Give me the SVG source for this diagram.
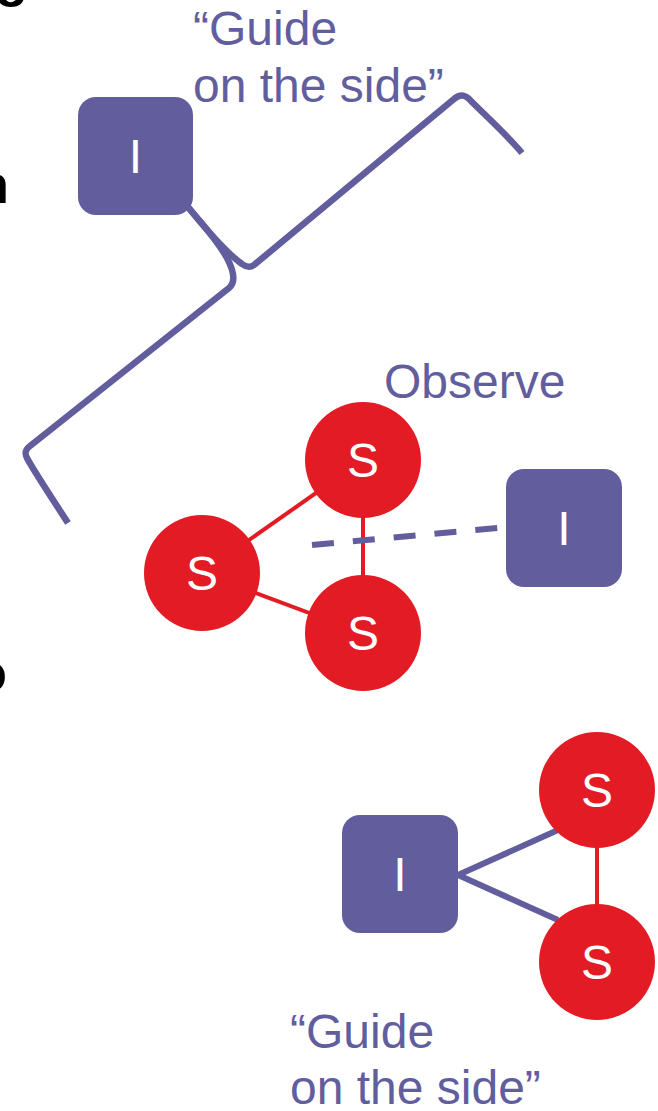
<svg xmlns="http://www.w3.org/2000/svg" width="658" height="1111" viewBox="0 0 658 1111">
  <style>
    .lbl { font-family: "Liberation Sans", Arial, sans-serif; font-size: 48px; fill: #625e9e; }
    .edge { font-family: "Liberation Sans", Arial, sans-serif; font-size: 54px; font-weight: bold; fill: #000; }
    .node-i rect { fill: #625e9e; }
    .node-s circle { fill: #e21b24; }
    .glyph { font-family: "Liberation Sans", Arial, sans-serif; font-size: 48px; fill: #fff; text-anchor: middle; }
    .link-s { stroke: #e21b24; stroke-width: 4; fill: none; }
    .link-i { stroke: #625e9e; stroke-width: 6; fill: none; }
    .brace { stroke: #625e9e; stroke-width: 6.5; fill: none; stroke-linejoin: round; }
  </style>

  <!-- clipped heading letters along the left margin -->
  <g id="margin-text">
    <text class="edge" x="-5" y="-4">g</text>
    <text class="edge" x="-24" y="203">n</text>
    <text class="edge" x="-26" y="691">o</text>
  </g>

  <!-- labels -->
  <g id="labels">
    <text class="lbl" x="193" y="45">“Guide</text>
    <text class="lbl" x="193" y="102">on the side”</text>
    <text class="lbl" x="384" y="398">Observe</text>
    <text class="lbl" x="290" y="1048">“Guide</text>
    <text class="lbl" x="290" y="1104">on the side”</text>
  </g>

  <!-- connectors -->
  <g id="connectors">
    <!-- curly brace reaching from the instructor -->
    <path class="brace" d="M68,523 C 55,503 32,468 27,458 C 24,452 26,449 30,446 L 229,288 C 236,282 234,272 228,260 C 218,240 200,222 188,207"/>
    <path class="brace" d="M188,207 C 205,228 225,252 242,264 C 246,267 250,268 254,265 L 454,99 C 460,94 465,94 471,101 C 487,117 505,133 522,153"/>
    <!-- student triangle -->
    <line class="link-s" x1="202" y1="573" x2="363" y2="460"/>
    <line class="link-s" x1="202" y1="573" x2="363" y2="633"/>
    <line class="link-s" x1="363" y1="460" x2="363" y2="633"/>
    <!-- bottom pair with instructor -->
    <line class="link-s" x1="597" y1="790" x2="597" y2="962"/>
    <line class="link-i" x1="458" y1="875" x2="558" y2="830" stroke-width="5"/>
    <line class="link-i" x1="458" y1="875" x2="558" y2="920" stroke-width="5"/>
  </g>

  <!-- instructors -->
  <g id="i-top" class="node-i">
    <rect x="78" y="97" width="115" height="118" rx="18"/>
    <text class="glyph" x="135.5" y="173">I</text>
  </g>
  <g id="i-mid" class="node-i">
    <rect x="506" y="469" width="116" height="118" rx="18"/>
    <text class="glyph" x="564" y="545">I</text>
  </g>
  <g id="i-bottom" class="node-i">
    <rect x="342" y="815" width="116" height="118" rx="18"/>
    <text class="glyph" x="400" y="891">I</text>
  </g>

  <!-- students -->
  <g id="s-top" class="node-s">
    <circle cx="363" cy="460" r="58"/>
    <text class="glyph" x="363" y="477">S</text>
  </g>
  <g id="s-left" class="node-s">
    <circle cx="202" cy="573" r="58"/>
    <text class="glyph" x="202" y="590">S</text>
  </g>
  <g id="s-bottom" class="node-s">
    <circle cx="363" cy="633" r="58"/>
    <text class="glyph" x="363" y="650">S</text>
  </g>
  <g id="s-right-top" class="node-s">
    <circle cx="597" cy="790" r="58"/>
    <text class="glyph" x="597" y="807">S</text>
  </g>
  <g id="s-right-bottom" class="node-s">
    <circle cx="597" cy="962" r="58"/>
    <text class="glyph" x="597" y="979">S</text>
  </g>

  <!-- dashed observation link, drawn over the student edge it crosses -->
  <g id="connectors-over">
    <line class="link-i" x1="312" y1="545" x2="507" y2="527" stroke-dasharray="22 19"/>
  </g>
</svg>
